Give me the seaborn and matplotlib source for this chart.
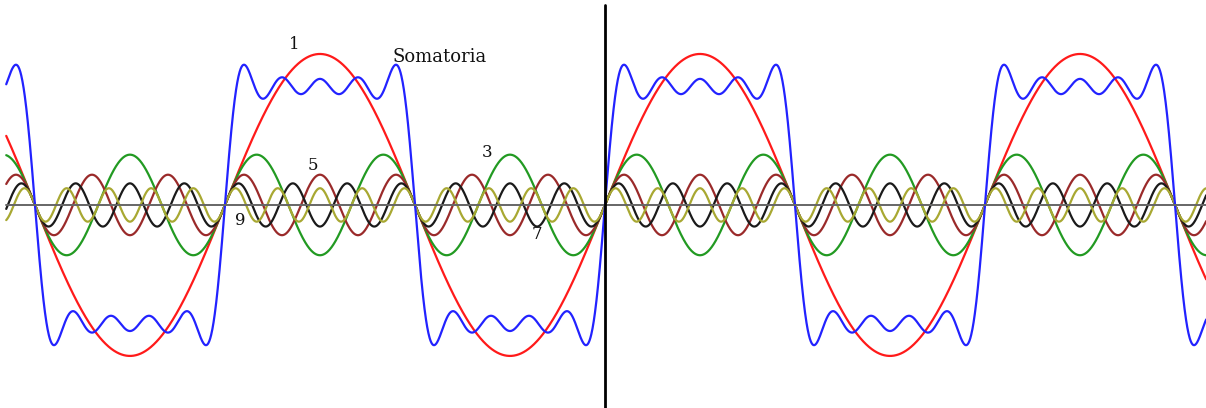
import numpy as np
import pandas as pd
import matplotlib
matplotlib.use("Agg")
import matplotlib.pyplot as plt
import seaborn as sns

# Odd harmonics of a square wave and their amplitudes
harmonics = [1, 3, 5, 7, 9]
amplitudes = [1.273, 0.424, 0.255, 0.182, 0.141]
harmonic_colors = ["#ff1a1a", "#229a22", "#9a2a2a", "#1a1a1a", "#a8a832"]
sum_label = "Somatoria"
sum_color = "#2222ff"

# Label positions (x in radians, y in amplitude units)
label_text = ["1", "Somatoria", "3", "5", "7", "9"]
label_x = [-5.13, -2.73, -1.95, -4.83, -1.12, -6.03]
label_y = [1.35, 1.25, 0.44, 0.33, -0.25, -0.13]
label_size = [12, 13, 12, 12, 12, 12]

x = np.linspace(-9.90, 9.94, 4000)
frames = []
total = np.zeros_like(x)
for n, a in zip(harmonics, amplitudes):
    y = a * np.sin(n * x)
    total += y
    frames.append(pd.DataFrame({"x": x, "y": y, "serie": str(n)}))
frames.append(pd.DataFrame({"x": x, "y": total, "serie": sum_label}))
df = pd.concat(frames, ignore_index=True)

palette = {str(n): c for n, c in zip(harmonics, harmonic_colors)}
palette[sum_label] = sum_color

sns.set_style("white")
fig = plt.figure(figsize=(12.06, 4.08), dpi=100)
ax = fig.add_axes([0, 0, 1, 1])
sns.lineplot(data=df, x="x", y="y", hue="serie", palette=palette,
             hue_order=[str(n) for n in harmonics] + [sum_label],
             linewidth=1.6, legend=False, ax=ax, sort=False,
             estimator=None)

ax.set_xlim(-10.003, 9.937)
ax.set_ylim(-1.712, 1.728)

# baseline and vertical reference axis
ax.plot([x[0], 9.937], [0, 0], color="#666666", linewidth=1.4, zorder=5)
ax.plot([0, 0], [-1.712, 1.686], color="black", linewidth=2.0, zorder=6)

for t, lx, ly, fs in zip(label_text, label_x, label_y, label_size):
    ax.text(lx, ly, t, family="DejaVu Serif", fontsize=fs,
            color="#111111", ha="center", va="center", zorder=7)

ax.axis("off")
fig.savefig("out.png", dpi=100)
